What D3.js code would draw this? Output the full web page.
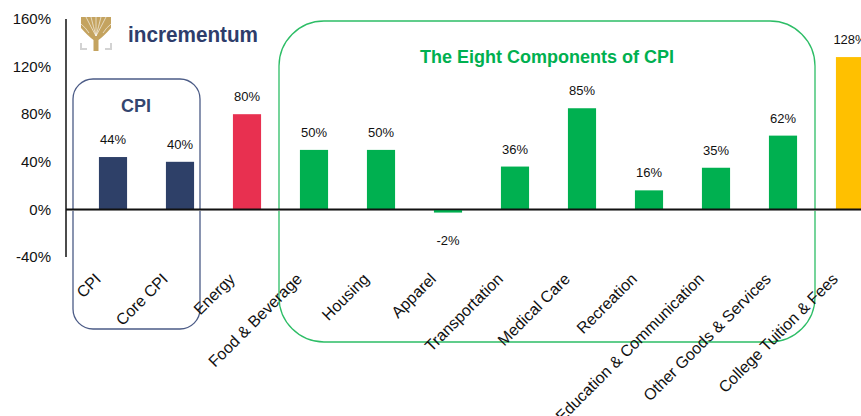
<!DOCTYPE html>
<html>
<head>
<meta charset="utf-8">
<script src="https://cdn.jsdelivr.net/npm/d3@7"></script>
<style>
  html, body { margin: 0; padding: 0; background: #fff; }
  svg { display: block; font-family: "Liberation Sans", Arial, sans-serif; }
</style>
</head>
<body>
<svg id="chart" width="861" height="416"></svg>
<script>
const categories = ["CPI", "Core CPI", "Energy", "Food & Beverage", "Housing", "Apparel",
  "Transportation", "Medical Care", "Recreation", "Education & Communication",
  "Other Goods & Services", "College Tuition & Fees"];
const values = [44, 40, 80, 50, 50, -2, 36, 85, 16, 35, 62, 128];
const groups = ["cpi", "cpi", "energy", "comp", "comp", "comp", "comp", "comp", "comp", "comp", "comp", "college"];
const yTicks = [-40, 0, 40, 80, 120, 160];

const colors = { cpi: "#2e4068", energy: "#e83050", comp: "#00b050", college: "#ffc000" };

const svg = d3.select("#chart");

const x = d3.scaleBand().domain(categories).range([79.5, 79.5 + 804])
  .paddingInner(0.58).paddingOuter(0.29);
const y = d3.scaleLinear().domain([-40, 160]).range([257, 19]);

// Boxes
svg.append("rect").attr("x", 73).attr("y", 79).attr("width", 127).attr("height", 250)
  .attr("rx", 20).attr("ry", 20).attr("fill", "none").attr("stroke", "#4b5b86").attr("stroke-width", 1.3);
svg.append("rect").attr("x", 279).attr("y", 21).attr("width", 536).attr("height", 321)
  .attr("rx", 45).attr("ry", 45).attr("fill", "none").attr("stroke", "#2dbd66").attr("stroke-width", 1.3);

// Y axis labels
svg.append("g").selectAll("text").data(yTicks).join("text")
  .attr("x", 51).attr("y", d => y(d)).attr("dy", "0.35em")
  .attr("text-anchor", "end").attr("font-size", 15).attr("fill", "#111")
  .text(d => d + "%");

// Axis shadow line
svg.append("line").attr("x1", 66).attr("x2", 861).attr("y1", y(0) + 1).attr("y2", y(0) + 1)
  .attr("stroke", "#999").attr("stroke-width", 1);

// Bars
svg.append("g").selectAll("rect").data(categories).join("rect")
  .attr("x", d => x(d))
  .attr("width", x.bandwidth())
  .attr("y", (d, i) => y(Math.max(0, values[i])))
  .attr("height", (d, i) => Math.abs(y(values[i]) - y(0)) + (values[i] < 0 ? 0.8 : 0))
  .attr("fill", (d, i) => colors[groups[i]]);

// Axis lines
svg.append("line").attr("x1", 66).attr("x2", 861).attr("y1", y(0)).attr("y2", y(0))
  .attr("stroke", "#111").attr("stroke-width", 1.6);
svg.append("line").attr("x1", 66).attr("x2", 66).attr("y1", 19).attr("y2", 257)
  .attr("stroke", "#111").attr("stroke-width", 1.5);

// Data labels
svg.append("g").selectAll("text").data(categories).join("text")
  .attr("x", d => x(d) + x.bandwidth() / 2)
  .attr("y", (d, i) => values[i] >= 0 ? y(values[i]) - 13 : y(values[i]) + 33)
  .attr("text-anchor", "middle").attr("font-size", 13).attr("fill", "#111")
  .text((d, i) => values[i] + "%");

// Category labels
svg.append("g").selectAll("text").data(categories).join("text")
  .attr("transform", d => `translate(${x(d) + x.bandwidth() / 2 - 11},280) rotate(-45)`)
  .attr("text-anchor", "end").attr("font-size", 16).attr("fill", "#111")
  .text(d => d);

// Box titles
svg.append("text").attr("x", 136).attr("y", 112).attr("text-anchor", "middle")
  .attr("font-size", 18).attr("font-weight", "bold").attr("fill", "#34466f").text("CPI");
svg.append("text").attr("x", 547).attr("y", 63).attr("text-anchor", "middle")
  .attr("font-size", 18).attr("font-weight", "bold").attr("fill", "#00b050").text("The Eight Components of CPI");

// Logo
const logo = svg.append("g");
const gold = "#c4a35f";
logo.append("path")
  .attr("d", "M81,17 L111,17 L111,28 Q104,36 98.5,40 L98.5,51 L93.5,51 L93.5,40 Q88,36 81,28 Z")
  .attr("fill", gold);
const splits = [[86, 17], [91, 17], [96, 17], [101, 17], [106, 17]];
splits.forEach(([tx, ty]) => {
  logo.append("path")
    .attr("d", `M96,36 Q${(96 + tx) / 2},${27} ${tx},${ty}`)
    .attr("fill", "none").attr("stroke", "#fff").attr("stroke-width", 0.6);
});
logo.append("path").attr("d", "M81,24 Q86,28 89,33 M111,24 Q106,28 103,33")
  .attr("fill", "none").attr("stroke", "#fff").attr("stroke-width", 0.6);
logo.append("path").attr("d", "M81,43 L81,49 L87,49").attr("fill", "none").attr("stroke", "#d3d3d3").attr("stroke-width", 2);
logo.append("path").attr("d", "M111,43 L111,49 L105,49").attr("fill", "none").attr("stroke", "#d3d3d3").attr("stroke-width", 2);
logo.append("text").attr("x", 128).attr("y", 42).attr("font-size", 22).attr("font-weight", "bold")
  .attr("fill", "#2e3d6b").attr("textLength", 130).attr("lengthAdjust", "spacingAndGlyphs").text("incrementum");
</script>
</body>
</html>
